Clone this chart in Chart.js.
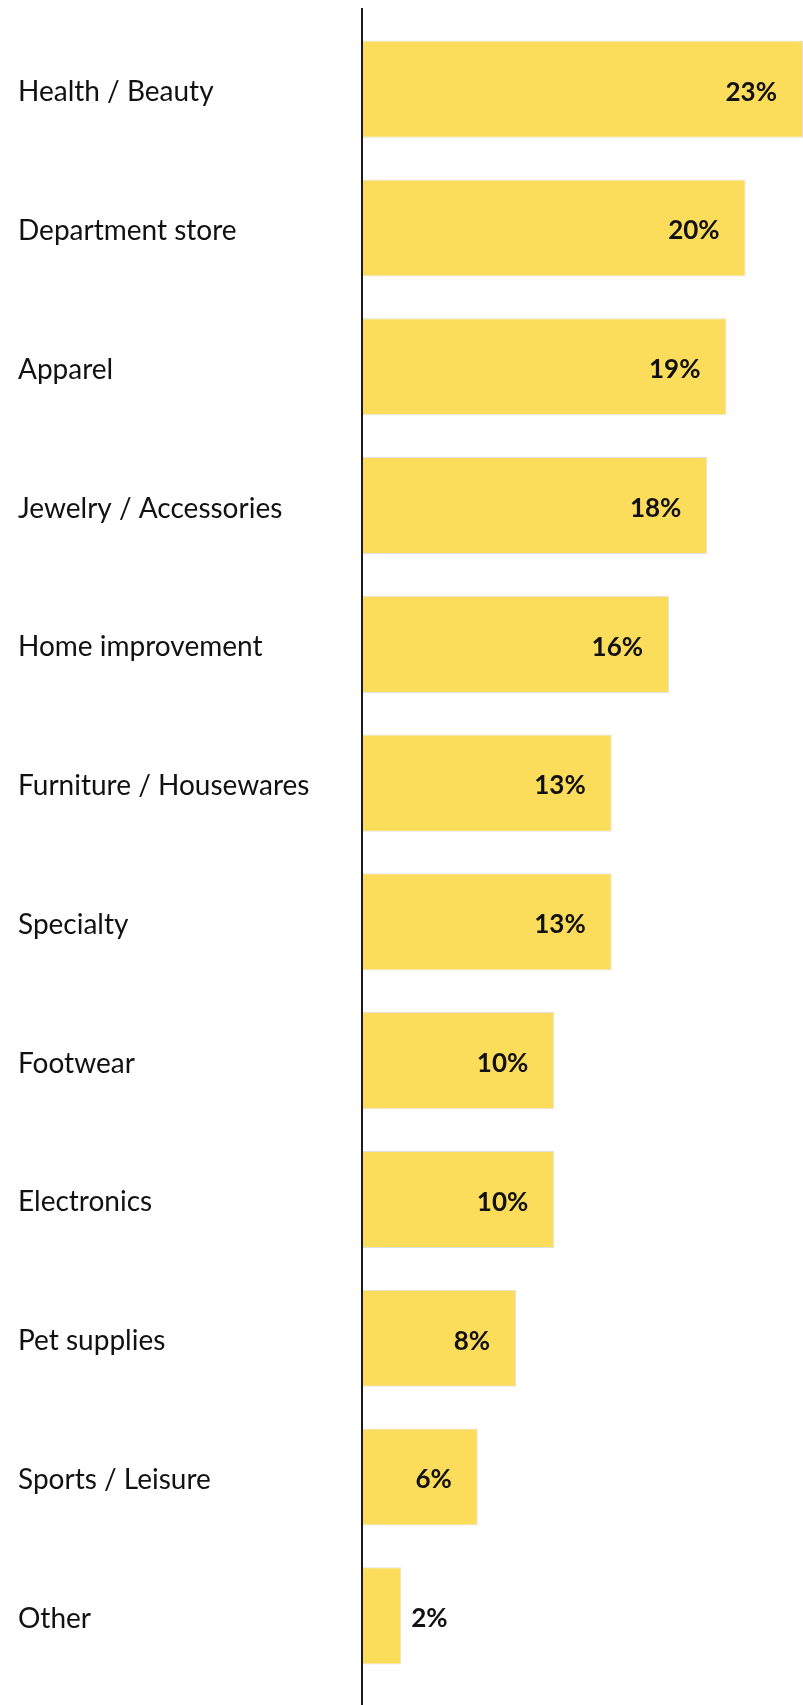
<!DOCTYPE html>
<html>
<head>
<meta charset="utf-8">
<script src="https://cdn.jsdelivr.net/npm/chart.js@4/dist/chart.umd.min.js"></script>
<style>
  html, body { margin: 0; padding: 0; background: #ffffff; }
  #wrap { position: relative; width: 803px; height: 1705px; }
</style>
</head>
<body>
<div id="wrap"><canvas id="shareChart"></canvas></div>
<script>
const categories = [
  "Health / Beauty",
  "Department store",
  "Apparel",
  "Jewelry / Accessories",
  "Home improvement",
  "Furniture / Housewares",
  "Specialty",
  "Footwear",
  "Electronics",
  "Pet supplies",
  "Sports / Leisure",
  "Other",
];
const shares = [23, 20, 19, 18, 16, 13, 13, 10, 10, 8, 6, 2];

const BAR_COLOR = "#fcdc5b";
const TEXT_COLOR = "#111111";
const FONT = "Lato, 'Noto Sans', sans-serif";

// value text at the end of each bar, inside when it fits
const valueLabels = {
  id: "valueLabels",
  afterDatasetsDraw(chart) {
    const ctx = chart.ctx;
    const meta = chart.getDatasetMeta(0);
    ctx.save();
    ctx.font = `bold 26px ${FONT}`;
    ctx.fillStyle = TEXT_COLOR;
    ctx.textBaseline = "middle";
    meta.data.forEach((bar, i) => {
      const text = shares[i] + "%";
      const w = ctx.measureText(text).width;
      const len = bar.x - bar.base;
      if (len > w + 36) {
        ctx.textAlign = "right";
        ctx.fillText(text, bar.x - 26, bar.y + 3);
      } else {
        ctx.textAlign = "left";
        ctx.fillText(text, bar.x + 10, bar.y + 3);
      }
    });
    ctx.restore();
  },
};

// vertical baseline runs the full height
const baseLine = {
  id: "baseLine",
  afterDraw(chart) {
    const ctx = chart.ctx;
    const x = Math.round(chart.scales.x.left) - 1;
    ctx.save();
    ctx.strokeStyle = "#1a1a1a";
    ctx.lineWidth = 2;
    ctx.beginPath();
    ctx.moveTo(x, 8);
    ctx.lineTo(x, chart.height);
    ctx.stroke();
    ctx.restore();
  },
};

new Chart(document.getElementById("shareChart"), {
  type: "bar",
  data: {
    labels: categories,
    datasets: [
      {
        data: shares,
        backgroundColor: BAR_COLOR,
        borderColor: "rgba(0, 0, 0, 0.12)",
        borderWidth: 1,
        borderSkipped: "start",
        categoryPercentage: 1,
        barPercentage: 0.7,
      },
    ],
  },
  options: {
    indexAxis: "y",
    responsive: true,
    maintainAspectRatio: false,
    animation: false,
    layout: { padding: { left: 18, right: 0, top: 17, bottom: 8 } },
    plugins: {
      legend: { display: false },
      tooltip: { enabled: false },
    },
    scales: {
      x: {
        min: 0,
        max: 23,
        display: false,
      },
      y: {
        border: { display: false },
        grid: { display: false },
        ticks: {
          crossAlign: "far",
          labelOffset: 3,
          color: TEXT_COLOR,
          font: { family: FONT, size: 28 },
        },
        afterFit(scale) {
          scale.width = 345;
        },
      },
    },
  },
  plugins: [valueLabels, baseLine],
});
</script>
</body>
</html>
